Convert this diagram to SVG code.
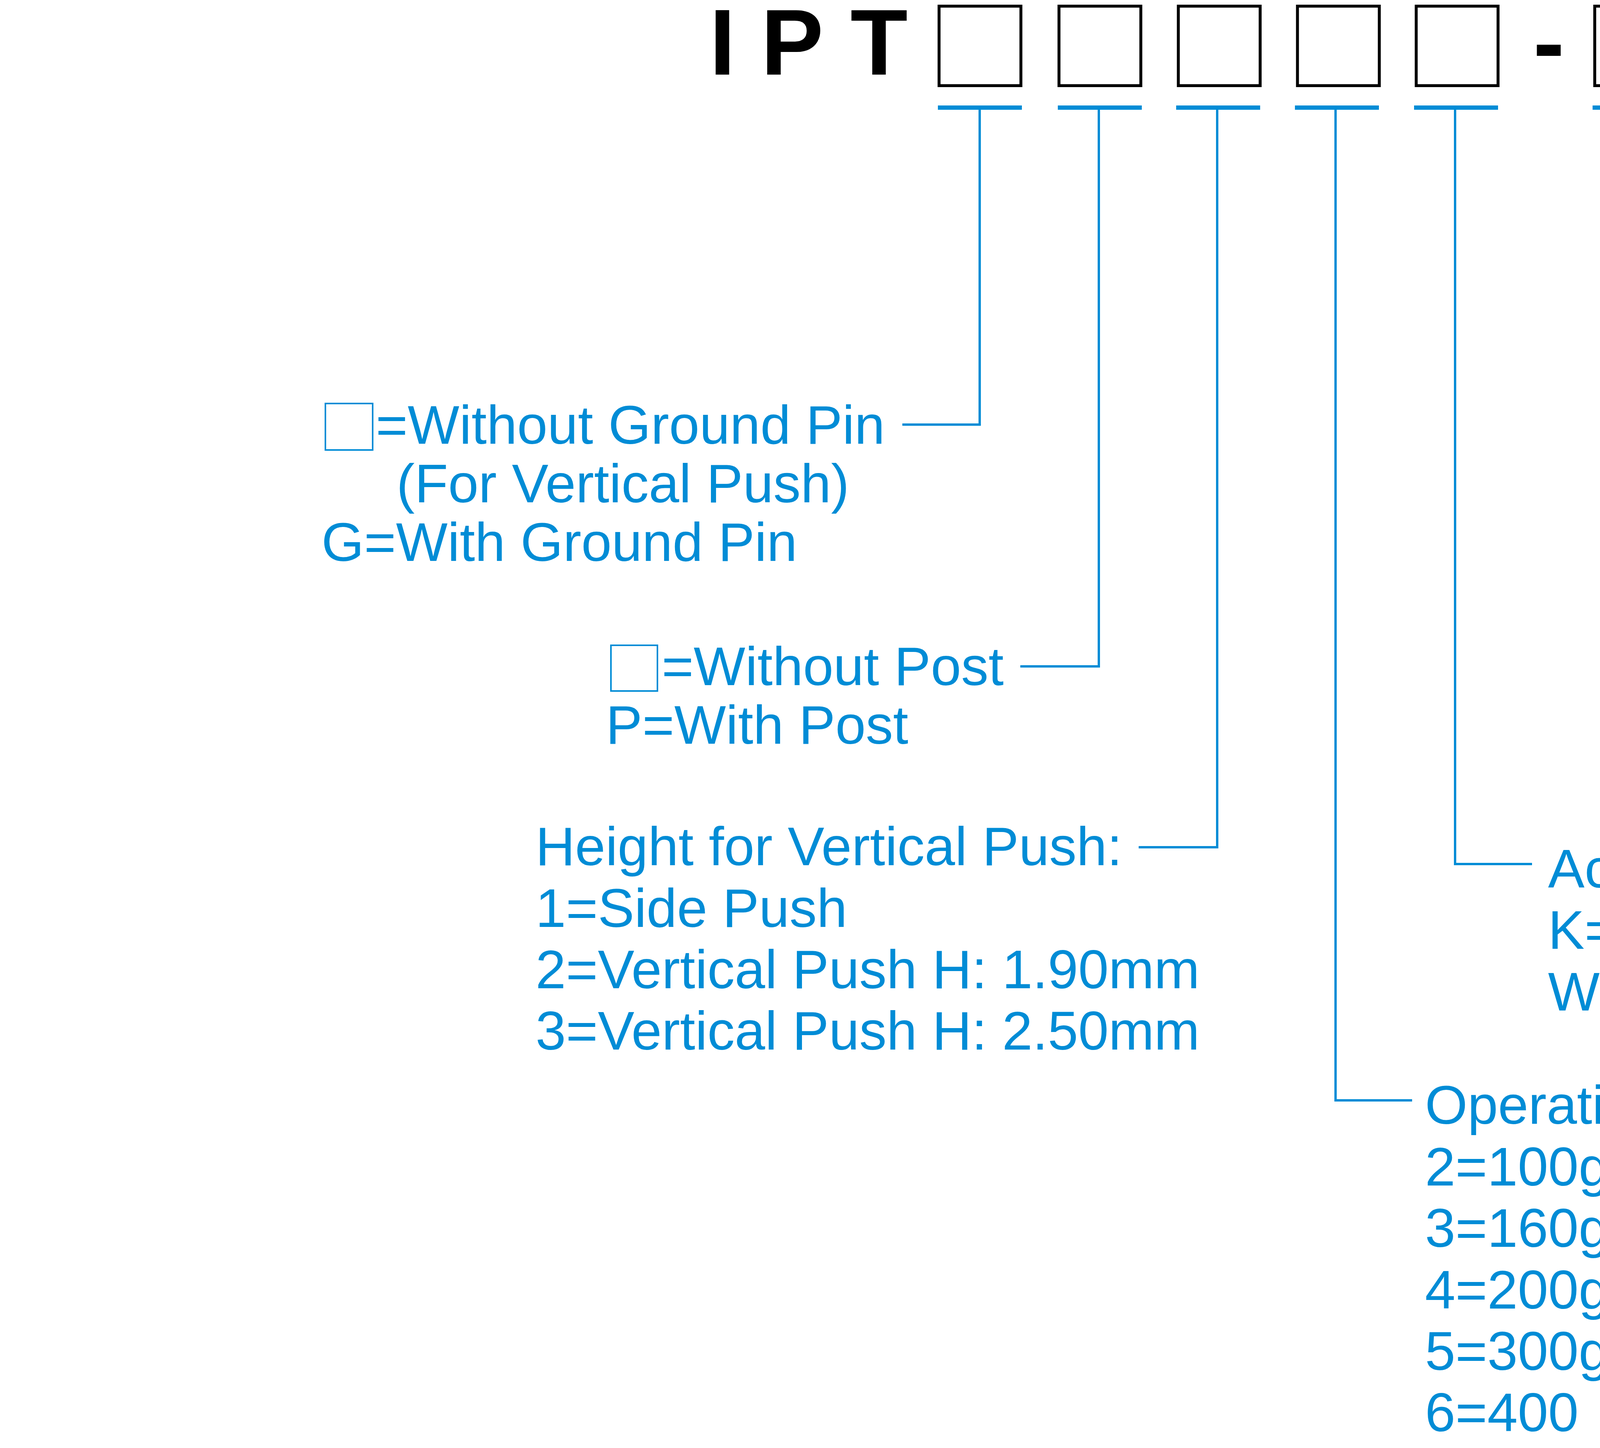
<svg xmlns="http://www.w3.org/2000/svg" width="7007" height="3707" viewBox="0 0 7007 3707">
<style>
.t{font-family:"Liberation Sans",Arial,sans-serif;font-size:140px;fill:#008CD6}
.h{font-family:"Liberation Sans",Arial,sans-serif;font-size:240px;font-weight:bold;fill:#000}
.box{fill:none;stroke:#000;stroke-width:7.5}
.bar{fill:#008CD6}
.c{fill:none;stroke:#008CD6;stroke-width:6}
.sb{fill:none;stroke:#008CD6;stroke-width:4}
</style>
<rect width="7007" height="3707" fill="#fff"/>
<g id="title">
<text class="h" x="1816" y="191">I</text>
<text class="h" x="1948" y="191">P</text>
<text class="h" x="2177" y="191">T</text>
<text class="h" x="3965" y="191" text-anchor="middle">-</text>
<text class="h" x="4420" y="191" text-anchor="middle">-</text>
<text class="h" x="4873" y="191" text-anchor="middle">-</text>
</g>
<g id="code1"><rect class="box" x="2404" y="15.75" width="209.5" height="203.5"/><rect class="bar" x="2401" y="270" width="215" height="11"/></g>
<g id="code2"><rect class="box" x="2711" y="15.75" width="209.5" height="203.5"/><rect class="bar" x="2708" y="270" width="215" height="11"/></g>
<g id="code3"><rect class="box" x="3016.5" y="15.75" width="209.5" height="203.5"/><rect class="bar" x="3011" y="270" width="215" height="11"/></g>
<g id="code4"><rect class="box" x="3321.5" y="15.75" width="209.5" height="203.5"/><rect class="bar" x="3315" y="270" width="215" height="11"/></g>
<g id="code5"><rect class="box" x="3625.5" y="15.75" width="209.5" height="203.5"/><rect class="bar" x="3620" y="270" width="215" height="11"/></g>
<g id="code6"><rect class="box" x="4082.5" y="15.75" width="209.5" height="203.5"/><rect class="bar" x="4077" y="270" width="215" height="11"/></g>
<g id="code7"><rect class="box" x="4534.5" y="15.75" width="209.5" height="203.5"/><rect class="bar" x="4529" y="270" width="215" height="11"/></g>
<g id="code8"><rect class="box" x="4987.5" y="15.75" width="209.5" height="203.5"/><rect class="bar" x="4982" y="270" width="215" height="11"/></g>
<g id="connectors">
<path class="c" d="M2508,281 V1087 H2310"/>
<path class="c" d="M2813,281 V1706 H2612"/>
<path class="c" d="M3116,281 V2169 H2915"/>
<path class="c" d="M3419,281 V2817 H3615"/>
<path class="c" d="M3725,281 V2212 H3922"/>
<path class="c" d="M4180,281 V1624 H4370"/>
<path class="c" d="M4632,281 V1166 H4823"/>
<path class="c" d="M5088,281 V710 H5281"/>
</g>
<g id="label-groundpin">
<rect class="sb" x="833" y="1033" width="121" height="119"/>
<text class="t" x="962" y="1136">=Without Ground Pin</text>
<text class="t" x="1015" y="1286">(For Vertical Push)</text>
<text class="t" x="823" y="1436">G=With Ground Pin</text>
</g>
<g id="label-post">
<rect class="sb" x="1564" y="1652" width="119" height="117"/>
<text class="t" x="1694" y="1754">=Without Post</text>
<text class="t" x="1551" y="1904">P=With Post</text>
</g>
<g id="label-height">
<text class="t" x="1371" y="2215">Height for Vertical Push:</text>
<text class="t" x="1371" y="2373">1=Side Push</text>
<text class="t" x="1371" y="2530">2=Vertical Push H: 1.90mm</text>
<text class="t" x="1371" y="2687">3=Vertical Push H: 2.50mm</text>
</g>
<g id="label-force">
<text class="t" x="3648" y="2877">Operation Force:</text>
<text class="t" x="3648" y="3035">2=100gf (Only for Vertical Push)</text>
<text class="t" x="3648" y="3192">3=160gf (Only for Vertical Push)</text>
<text class="t" x="3648" y="3350">4=200gf (Only for Side Push)</text>
<text class="t" x="3648" y="3507">5=300gf (Only for Vertical Push)</text>
<text class="t" y="3664"><tspan x="3648">6=400</tspan><tspan x="4120">f</tspan><tspan x="4248">Onl</tspan><tspan x="4573">for Vertical Push</tspan></text>
</g>
<g id="label-color">
<text class="t" x="3963" y="2272">Actuator Color:</text>
<text class="t" x="3963" y="2429">K=Black</text>
<text class="t" x="3963" y="2587">W=White</text>
</g>
<g id="label-contact">
<text class="t" x="4400" y="1680">Contact Material:</text>
<rect class="sb" x="4415" y="1738" width="121" height="117"/>
<text class="t" x="4540" y="1838">=Silver</text>
<text class="t" x="4402" y="1994">A=Gold</text>
</g>
<g id="label-rohs">
<text class="t" x="4861" y="1227">V=RoHS &amp; Lead Free Solderable</text>
<text class="t" x="4858" y="1369">Q=Halogen Free</text>
</g>
<g id="label-package">
<text class="t" x="5320" y="760">Package:</text>
<text class="t" x="5323" y="916">T/R=Tape &amp; Reel</text>
</g>
</svg>
